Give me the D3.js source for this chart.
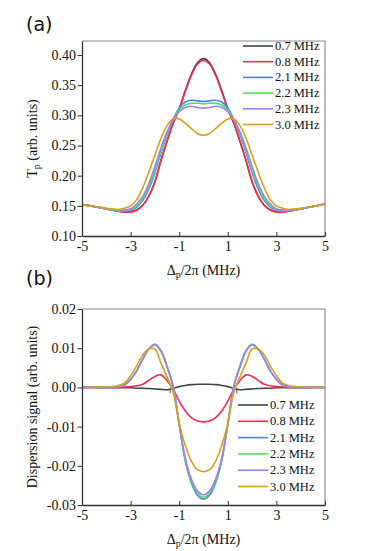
<!DOCTYPE html>
<html>
<head>
<meta charset="utf-8">
<script src="https://cdn.jsdelivr.net/npm/d3@7"></script>
<style>
  body { margin: 0; background: #fff; }
  svg { display: block; }
</style>
</head>
<body>
<div id="chart"></div>
<script>
/*
 * Probe transmission and dispersion vs detuning
 */

// detuning grid, MHz
var detuning = [-5,-4.5,-4,-3.5,-3.25,-3,-2.75,-2.5,-2.25,-2,-1.75,-1.5,-1.25,-1,-0.75,-0.5,-0.25,0,
                0.25,0.5,0.75,1,1.25,1.5,1.75,2,2.25,2.5,2.75,3,3.25,3.5,4,4.5,5];

var seriesNames = ["0.7 MHz", "0.8 MHz", "2.1 MHz", "2.2 MHz", "2.3 MHz", "3.0 MHz"];

// (a) transmission
var trans07 = [0.152,0.149,0.145,0.141,0.140,0.140,0.143,0.151,0.166,0.190,0.225,0.257,0.287,0.311,0.341,0.368,0.387,0.394,
               0.387,0.368,0.341,0.311,0.287,0.257,0.225,0.190,0.166,0.151,0.143,0.140,0.140,0.141,0.145,0.149,0.153];
var trans08 = [0.152,0.149,0.145,0.141,0.140,0.140,0.143,0.151,0.166,0.190,0.225,0.257,0.287,0.310,0.339,0.366,0.385,0.391,
               0.385,0.366,0.339,0.310,0.287,0.257,0.225,0.190,0.166,0.151,0.143,0.140,0.140,0.141,0.145,0.149,0.153];
var trans21 = [0.152,0.149,0.145,0.142,0.141,0.143,0.148,0.159,0.178,0.205,0.238,0.268,0.293,0.312,0.322,0.325,0.324,0.323,
               0.324,0.325,0.322,0.312,0.293,0.268,0.238,0.205,0.178,0.159,0.148,0.143,0.141,0.142,0.145,0.149,0.153];
var trans22 = [0.152,0.149,0.145,0.142,0.142,0.144,0.150,0.162,0.182,0.209,0.241,0.270,0.293,0.309,0.317,0.320,0.320,0.319,
               0.320,0.320,0.317,0.309,0.293,0.270,0.241,0.209,0.182,0.162,0.150,0.144,0.142,0.142,0.145,0.149,0.153];
var trans23 = [0.152,0.149,0.145,0.143,0.143,0.145,0.153,0.166,0.187,0.215,0.246,0.273,0.293,0.306,0.313,0.315,0.313,0.312,
               0.313,0.315,0.313,0.306,0.293,0.273,0.246,0.215,0.187,0.166,0.153,0.145,0.143,0.143,0.145,0.149,0.153];
var trans30 = [0.151,0.149,0.146,0.144,0.146,0.150,0.160,0.180,0.206,0.234,0.262,0.283,0.294,0.294,0.287,0.278,0.270,0.267,
               0.270,0.278,0.287,0.294,0.294,0.283,0.262,0.234,0.206,0.180,0.160,0.150,0.146,0.144,0.146,0.149,0.153];

// (b) dispersion
var disp07 = [0,0,-0.0001,-0.0001,-0.0001,-0.0001,-0.0002,-0.0002,-0.0003,-0.0004,-0.0005,-0.0006,-0.0003,0.0002,0.0005,0.0007,0.0008,0.0008,
              0.0008,0.0007,0.0005,0.0002,-0.0003,-0.0006,-0.0005,-0.0004,-0.0003,-0.0002,-0.0002,-0.0001,-0.0001,-0.0001,-0.0001,0,0];
var disp08 = [0,0,0,0,0.0001,0.0002,0.0004,0.0008,0.0018,0.0028,0.0032,0.0017,-0.0004,-0.0035,-0.0060,-0.0077,-0.0086,-0.0088,
              -0.0086,-0.0077,-0.0060,-0.0035,-0.0004,0.0017,0.0032,0.0028,0.0018,0.0008,0.0004,0.0002,0.0001,0,0,0,0];
var disp21 = [0,0,0,0.0002,0.0006,0.0020,0.0042,0.0072,0.0098,0.0110,0.0094,0.0054,0.0003,-0.0095,-0.0187,-0.0243,-0.0275,-0.0285,
              -0.0275,-0.0243,-0.0187,-0.0095,0.0003,0.0054,0.0094,0.0110,0.0098,0.0072,0.0042,0.0020,0.0006,0.0002,0,0,0];
var disp22 = [0,0,0,0.0002,0.0006,0.0020,0.0042,0.0072,0.0098,0.0109,0.0093,0.0053,0.0003,-0.0094,-0.0184,-0.0239,-0.0270,-0.0280,
              -0.0270,-0.0239,-0.0184,-0.0094,0.0003,0.0053,0.0093,0.0109,0.0098,0.0072,0.0042,0.0020,0.0006,0.0002,0,0,0];
var disp23 = [0,0,0,0.0002,0.0006,0.0021,0.0043,0.0073,0.0098,0.0109,0.0092,0.0052,0.0003,-0.0092,-0.0180,-0.0234,-0.0264,-0.0274,
              -0.0264,-0.0234,-0.0180,-0.0092,0.0003,0.0052,0.0092,0.0109,0.0098,0.0073,0.0043,0.0021,0.0006,0.0002,0,0,0];
var disp30 = [0,0,0.0001,0.0005,0.0011,0.0030,0.0055,0.0083,0.0098,0.0098,0.0062,0.0027,-0.0012,-0.0092,-0.0148,-0.0188,-0.0210,-0.0215,
              -0.0210,-0.0188,-0.0148,-0.0092,-0.0012,0.0027,0.0062,0.0098,0.0098,0.0083,0.0055,0.0030,0.0011,0.0005,0.0001,0,0];

// ticks
var xTicks = [-5, -3, -1, 1, 3, 5];
var yTicksA = [0.10, 0.15, 0.20, 0.25, 0.30, 0.35, 0.40];
var yTicksB = [-0.03, -0.02, -0.01, 0.00, 0.01, 0.02];

// small marks on the zero line of (b)
var zeroMarks = [-1.37, 1.37];

var COLORS = ["#3e4846", "#f72a50", "#4a80ff", "#55e055", "#a57cf8", "#d6a11c"];
var SERIF = "'Liberation Serif', 'Times New Roman', serif";

var W = 375, H = 551;
var svg = d3.select("#chart").append("svg").attr("width", W).attr("height", H);

/*
 * Draw one panel
 */
function drawPanel(opt){
  var x = d3.scaleLinear().domain([-5, 5]).range([opt.left, opt.right]);
  var y = d3.scaleLinear().domain(opt.yDomain).range([opt.bottom, opt.top]);
  var g = svg.append("g");

  // curves
  var line = d3.line()
    .x(function(d){ return x(d[0]); })
    .y(function(d){ return y(d[1]); })
    .curve(d3.curveCatmullRom.alpha(0.5));

  for(var i = 0; i < opt.series.length; i++){
    var pts = detuning.map(function(dx, k){ return [dx, opt.series[i][k]]; });
    g.append("path").datum(pts).attr("d", line)
      .attr("fill", "none").attr("stroke", COLORS[i]).attr("stroke-width", 1.6);
  }

  if(opt.marks){
    g.selectAll(".zmark").data(opt.marks).enter().append("line")
      .attr("x1", function(d){ return x(d); }).attr("x2", function(d){ return x(d); })
      .attr("y1", y(0) + 1).attr("y2", y(0) + 6)
      .attr("stroke", "#555").attr("stroke-width", 1);
  }

  // frame: top and right in grey
  g.append("line").attr("x1", opt.left).attr("x2", opt.right).attr("y1", opt.top).attr("y2", opt.top)
    .attr("stroke", "#8a8a8a").attr("stroke-width", 1.2);
  g.append("line").attr("x1", opt.right).attr("x2", opt.right).attr("y1", opt.top).attr("y2", opt.bottom)
    .attr("stroke", "#8a8a8a").attr("stroke-width", 1.2);

  var xAxis = d3.axisBottom(x).tickValues(xTicks).tickSizeInner(-4).tickSizeOuter(0).tickPadding(5.5)
    .tickFormat(function(d){ return String(d); });
  var yAxis = d3.axisLeft(y).tickValues(opt.yTicks).tickSizeInner(4.5).tickSizeOuter(0).tickPadding(1.5)
    .tickFormat(function(d){ return d.toFixed(2); });

  var gx = g.append("g").attr("transform", "translate(0," + opt.bottom + ")").call(xAxis);
  var gy = g.append("g").attr("transform", "translate(" + opt.left + ",0)").call(yAxis);
  [gx, gy].forEach(function(a){
    a.attr("font-family", SERIF).attr("font-size", 14);
    a.selectAll(".tick text").style("font-family", SERIF).style("font-size", "14px").attr("fill", "#111");
    a.select(".domain").attr("stroke", "#333").attr("stroke-width", 1.3);
    a.selectAll(".tick line").attr("stroke", "#333").attr("stroke-width", 1);
  });

  // panel letter
  svg.append("text").attr("x", 26).attr("y", opt.letterY)
    .attr("font-family", "DejaVu Sans, sans-serif").attr("font-size", 19).attr("fill", "#111")
    .text(opt.letter);

  // x label
  var xl = svg.append("text").attr("x", (opt.left + opt.right) / 2).attr("y", opt.bottom + 39)
    .attr("text-anchor", "middle").style("font-family", SERIF)
    .attr("font-size", 14).attr("fill", "#111");
  xl.append("tspan").text("\u0394");
  xl.append("tspan").attr("dy", 3).attr("font-size", 10).text("p");
  xl.append("tspan").attr("dy", -3).text("/2\u03c0 (MHz)");

  // y label
  var yl = svg.append("text")
    .attr("transform", "translate(37," + ((opt.top + opt.bottom) / 2) + ") rotate(-90)")
    .attr("text-anchor", "middle").style("font-family", SERIF)
    .attr("font-size", 14).attr("fill", "#111");
  if(opt.subLabel){
    yl.append("tspan").text(opt.yLabel);
    yl.append("tspan").attr("dy", 3).attr("font-size", 10).text(opt.subLabel);
    yl.append("tspan").attr("dy", -3).text(opt.yLabelRest);
  } else {
    yl.text(opt.yLabel);
  }

  // legend
  var lg = g.append("g");
  for(var j = 0; j < seriesNames.length; j++){
    var ly = opt.legendY + j * opt.legendStep;
    lg.append("line").attr("x1", opt.legendX).attr("x2", opt.legendX + 30).attr("y1", ly).attr("y2", ly)
      .attr("stroke", COLORS[j]).attr("stroke-width", 1.6);
    lg.append("text").attr("x", opt.legendX + 32).attr("y", ly + 4)
      .style("font-family", SERIF).attr("font-size", 12.5).attr("fill", "#111")
      .text(seriesNames[j]);
  }
}

drawPanel({
  left: 82, right: 325, top: 41, bottom: 236,
  yDomain: [0.10, 0.4232], yTicks: yTicksA,
  series: [trans07, trans08, trans21, trans22, trans23, trans30],
  letter: "(a)", letterY: 31,
  yLabel: "T", subLabel: "p", yLabelRest: " (arb. units)",
  legendX: 243, legendY: 46, legendStep: 15.7
});

drawPanel({
  left: 82, right: 325, top: 309, bottom: 505,
  yDomain: [-0.03, 0.02], yTicks: yTicksB,
  series: [disp07, disp08, disp21, disp22, disp23, disp30],
  marks: zeroMarks,
  letter: "(b)", letterY: 285,
  yLabel: "Dispersion signal (arb. units)",
  legendX: 238, legendY: 405, legendStep: 16.3
});
</script>
</body>
</html>
